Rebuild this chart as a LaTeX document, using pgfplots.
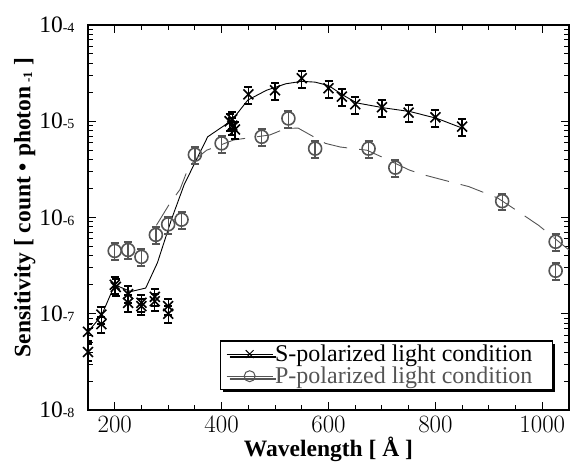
\documentclass[border=0pt]{standalone}
\usepackage{fontspec}
\setmainfont{Liberation Serif}
\usepackage{pgfplots}
\pgfplotsset{compat=1.18}
\usetikzlibrary{shadows}
\definecolor{pgray}{gray}{0.33}

\newcommand{\tl}[1]{10{\fontsize{14}{14}\selectfont #1}}

\begin{document}
\begin{tikzpicture}
\begin{axis}[
  scale only axis,
  width=481pt, height=385pt,
  ymode=log,
  xmin=150, xmax=1050, ymin=1e-8, ymax=1e-4,
  xtick={200,400,600,800,1000},
  minor x tick num=3,
  /pgf/number format/1000 sep={},
  ytick={1e-8,1e-7,1e-6,1e-5,1e-4},
  yticklabels={\tl{-8},\tl{-7},\tl{-6},\tl{-5},\tl{-4}},
  tick align=inside,
  major tick length=8pt, minor tick length=5pt,
  axis line style={line width=1.3pt},
  every tick/.append style={black, line width=1pt},
  tick label style={font=\fontsize{23.5}{24}\selectfont},
  yticklabel style={xshift=-10pt},
  xticklabel style={yshift=-3pt},
  label style={font=\fontsize{23.5}{25}\selectfont\bfseries},
  xlabel={Wavelength [ Å ]},
  ylabel={Sensitivity [ count \textbullet{} photon\,{\fontsize{13}{13}\selectfont\raisebox{-0.3ex}{-1}} ]},
  xlabel style={yshift=2pt},
  ylabel style={yshift=-3pt, xshift=10pt},
  legend image code/.code={
    \draw[solid, line width=0.9pt] (0pt,0pt) -- (46pt,0pt);
    \draw[mark size=5.5pt, line width=1pt] plot coordinates {(23pt,0pt)};
  },
  legend style={
    at={(0.967,0.052)}, anchor=south east,
    draw=black, line width=1.4pt, fill=white,
    drop shadow={shadow xshift=3pt, shadow yshift=-3pt, opacity=1, fill=black},
    font=\fontsize{24}{25}\selectfont,
    inner xsep=6pt, inner ysep=2pt, row sep=0pt,
    cells={anchor=west},
  },
]
% fitted curves
\addplot[black, line width=0.9pt, forget plot] coordinates {
  (150,6.5e-8) (175,9.5e-8) (200,2.0e-7) (230,1.7e-7) (258,1.85e-7)
  (280,3.4e-7) (306,9.5e-7) (330,2.2e-6) (350,3.7e-6) (374,6.9e-6)
  (419,1.02e-5) (449,1.66e-5) (484,2.1e-5) (520,2.45e-5) (550,2.6e-5)
  (575,2.55e-5) (600,2.35e-5) (625,1.9e-5) (653,1.55e-5) (703,1.38e-5)
  (753,1.26e-5) (803,1.07e-5) (850,8.5e-6)
};
\addplot[pgray, line width=0.9pt, dash pattern=on 24pt off 12pt, forget plot] coordinates {
  (278,8.3e-7) (303,1.4e-6) (322,1.95e-6) (334,2.9e-6) (350,4.0e-6)
  (372,5.0e-6) (423,6.4e-6) (490,7.2e-6) (520,8.4e-6) (543,8.5e-6)
  (594,5.9e-6) (622,5.4e-6) (672,5.0e-6) (702,4.2e-6) (752,3.1e-6)
  (781,2.75e-6) (834,2.3e-6) (862,2.1e-6) (916,1.6e-6) (941,1.3e-6)
  (993,8.3e-7) (1050,4.6e-7)
};
% S-polarized
\addplot[black, only marks, mark=x, mark size=7pt, line width=1.6pt,
  error bars/.cd, y dir=both, y explicit relative, error mark=|,
  error bar style={line width=1.3pt},
  error mark options={line width=2pt, mark size=4pt}]
coordinates {
  (150,6.5e-8) +- (0,0.2) (150,4.0e-8) +- (0,0.2)
  (175,9.8e-8) +- (0,0.2) (175,7.8e-8) +- (0,0.2)
  (200,2.0e-7) +- (0,0.2) (202,1.9e-7) +- (0,0.2)
  (225,1.6e-7) +- (0,0.2) (225,1.3e-7) +- (0,0.2)
  (250,1.3e-7) +- (0,0.2) (250,1.2e-7) +- (0,0.2)
  (275,1.5e-7) +- (0,0.2) (275,1.35e-7) +- (0,0.2)
  (300,1.2e-7) +- (0,0.2) (300,1.0e-7) +- (0,0.2)
  (415,1.0e-5) +- (0,0.2) (420,9.0e-6) +- (0,0.2)
  (425,8.2e-6) +- (0,0.2) (420,1.05e-5) +- (0,0.2)
  (450,1.9e-5) +- (0,0.2) (500,2.1e-5) +- (0,0.2)
  (550,2.8e-5) +- (0,0.2) (600,2.2e-5) +- (0,0.2)
  (625,1.8e-5) +- (0,0.2) (650,1.5e-5) +- (0,0.2)
  (700,1.4e-5) +- (0,0.2) (750,1.23e-5) +- (0,0.2)
  (800,1.1e-5) +- (0,0.2) (850,8.8e-6) +- (0,0.2)
};
\addlegendentry{S-polarized light condition\hspace*{12pt}}
% P-polarized
\addplot[pgray, only marks, mark=o, mark size=6.5pt, line width=1.6pt,
  error bars/.cd, y dir=both, y explicit relative, error mark=|,
  error bar style={line width=1.3pt},
  error mark options={line width=2pt, mark size=4pt}]
coordinates {
  (200,4.5e-7) +- (0,0.2) (225,4.6e-7) +- (0,0.2)
  (250,3.9e-7) +- (0,0.2) (277,6.6e-7) +- (0,0.2)
  (300,8.5e-7) +- (0,0.2) (325,9.5e-7) +- (0,0.2)
  (350,4.5e-6) +- (0,0.2) (400,5.9e-6) +- (0,0.2)
  (475,6.9e-6) +- (0,0.2) (525,1.07e-5) +- (0,0.2)
  (575,5.2e-6) +- (0,0.2) (675,5.2e-6) +- (0,0.2)
  (725,3.3e-6) +- (0,0.2) (925,1.48e-6) +- (0,0.2)
  (1025,5.6e-7) +- (0,0.2) (1025,2.8e-7) +- (0,0.2)
};
\addlegendentry{\textcolor{pgray}{P-polarized light condition}}
\end{axis}
\path ([xshift=-88pt,yshift=-56pt]current axis.south west)
  rectangle ([xshift=2pt,yshift=25pt]current axis.north east);
\end{tikzpicture}
\end{document}
